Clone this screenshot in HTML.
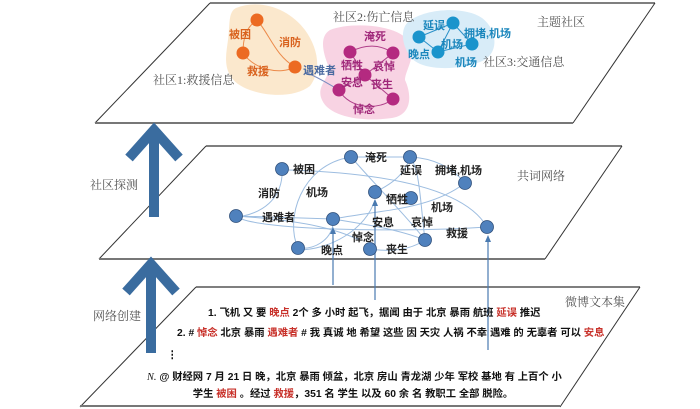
<!DOCTYPE html>
<html><head><meta charset="utf-8"><style>
html,body{margin:0;padding:0;background:#fff;width:700px;height:409px;overflow:hidden}
svg{display:block}
.g{font-family:"Liberation Serif","Noto Serif CJK SC",serif;font-size:12px;fill:#555}
.l{font-family:"Liberation Sans","Noto Sans CJK SC",sans-serif;font-size:11px;font-weight:bold}
.k{fill:#222}
.t{font-family:"Liberation Sans","Noto Sans CJK SC",sans-serif;font-size:10.3px;font-weight:bold;fill:#111}
.r{fill:#c8312a}
</style></head><body>
<svg width="700" height="409" viewBox="0 0 700 409" xmlns="http://www.w3.org/2000/svg">
<!-- planes -->
<g fill="none">
<line x1="210" y1="3" x2="655" y2="3" stroke="#333" stroke-width="1.3"/>
<line x1="210" y1="3" x2="95" y2="123" stroke="#333" stroke-width="1"/>
<line x1="655" y1="3" x2="573" y2="123" stroke="#333" stroke-width="1"/>
<line x1="95" y1="123" x2="573" y2="123" stroke="#777" stroke-width="2"/>
<line x1="206" y1="146" x2="622" y2="146" stroke="#555" stroke-width="1.5"/>
<line x1="206" y1="146" x2="99" y2="259" stroke="#333" stroke-width="1"/>
<line x1="622" y1="146" x2="545" y2="259" stroke="#333" stroke-width="1"/>
<line x1="99" y1="259" x2="545" y2="259" stroke="#777" stroke-width="2"/>
<line x1="196" y1="287" x2="640" y2="287" stroke="#555" stroke-width="1.5"/>
<line x1="196" y1="287" x2="80" y2="407" stroke="#333" stroke-width="1"/>
<line x1="640" y1="287" x2="560" y2="407" stroke="#333" stroke-width="1"/>
<line x1="80" y1="406" x2="560" y2="406" stroke="#777" stroke-width="2"/>
</g>
<!-- big arrows -->
<g stroke="#3a6c9f" stroke-width="10" fill="none">
<line x1="154" y1="217" x2="154" y2="128"/>
<polyline points="129,158 154,130 179,158"/>
<line x1="151" y1="353" x2="151" y2="264"/>
<polyline points="126,292 151,264 176,292"/>
</g>
<polygon points="154,123 148,131 160,131" fill="#3a6c9f"/>
<polygon points="151,259 145,267 157,267" fill="#3a6c9f"/>
<text class="g" x="90" y="189">社区探测</text>
<text class="g" x="93" y="320">网络创建</text>

<!-- top layer blobs -->
<path d="M236,8 C262,-2 290,10 305,30 C318,48 322,70 310,86 C292,100 255,96 238,84 C222,72 226,55 228,40 C230,25 228,12 236,8Z" fill="#fbe6c8" opacity="0.9"/>
<path d="M330,30 C350,22 395,24 408,40 C418,55 405,70 405,80 C412,95 412,115 392,118 C365,122 330,118 322,100 C315,85 332,78 328,65 C322,50 320,36 330,30Z" fill="#f8d3e3"/>
<path d="M408,22 C425,8 465,6 482,18 C498,30 500,55 480,62 C460,70 420,72 410,56 C402,45 400,30 408,22Z" fill="#d8ecf8"/>
<!-- top edges -->
<g fill="none" stroke-width="1">
<path d="M257,20 C245,28 243,40 243,53" stroke="#ec8a4a"/>
<path d="M257,20 C270,35 275,55 295,67" stroke="#ec8a4a"/>
<path d="M243,53 C255,70 280,75 295,67" stroke="#ec8a4a"/>
<path d="M305,72 C320,78 330,85 339,90" stroke="#7a8cc0"/>
<path d="M350,52 C365,44 380,44 393,53" stroke="#b0408a"/>
<path d="M350,52 L365,75 L393,53 M365,75 L339,90 M365,75 L393,99" stroke="#b0408a"/>
<path d="M339,90 C350,110 380,110 393,99" stroke="#b0408a"/>
<path d="M419,37 L453,23 L472,44 L438,52 L419,37 M453,23 L438,52" stroke="#2a90c8"/>
</g>
<g fill="#ec6a22"><circle cx="257" cy="20" r="6.5"/><circle cx="243" cy="53" r="6.5"/><circle cx="295" cy="67" r="6.5"/></g>
<g fill="#b42a80"><circle cx="350" cy="52" r="6.5"/><circle cx="393" cy="53" r="6.5"/><circle cx="365" cy="75" r="6.5"/><circle cx="339" cy="90" r="6.5"/><circle cx="393" cy="99" r="6.5"/></g>
<g fill="#1a94cc"><circle cx="419" cy="37" r="6.5"/><circle cx="453" cy="23" r="6.5"/><circle cx="472" cy="44" r="6.5"/><circle cx="438" cy="52" r="6.5"/></g>
<g class="l" fill="#d9621e"><text x="229" y="38">被困</text><text x="279" y="46">消防</text><text x="247" y="75">救援</text></g>
<text class="l" x="303" y="74" fill="#4a6aa0">遇难者</text>
<g class="l" fill="#a0287a"><text x="364" y="40">淹死</text><text x="341" y="69">牺牲</text><text x="373" y="70">哀悼</text><text x="341" y="86">安息</text><text x="371" y="88">丧生</text><text x="353" y="113">悼念</text></g>
<g class="l" fill="#1a86bc"><text x="423" y="29">延误</text><text x="464" y="37">拥堵,机场</text><text x="441" y="48">机场</text><text x="408" y="58">晚点</text><text x="455" y="66">机场</text></g>
<text class="g" x="153" y="84">社区1:救援信息</text>
<text class="g" x="333" y="21">社区2:伤亡信息</text>
<text class="g" x="483" y="66">社区3:交通信息</text>
<text class="g" x="537" y="26">主题社区</text>

<!-- middle network -->
<g fill="none" stroke="#9dbde0" stroke-width="1">
<path d="M282,176 C280,200 262,212 243,216"/>
<path d="M289,170 C350,172 460,180 487,227"/>
<path d="M351,157 L410,157 C430,158 450,165 465,183"/>
<path d="M351,157 C300,165 285,220 298,248"/>
<path d="M351,157 C380,190 410,220 425,240"/>
<path d="M410,157 C405,175 390,185 375,192"/>
<path d="M410,157 C420,170 420,200 425,240"/>
<path d="M236,216 L333,219"/>
<path d="M236,216 C250,230 400,233 487,227"/>
<path d="M333,219 C380,210 430,210 465,183"/>
<path d="M333,219 C370,225 400,230 425,240"/>
<path d="M298,248 C315,250 330,240 333,225"/>
<path d="M298,250 C330,250 365,230 375,200"/>
<path d="M370,249 C390,252 410,250 425,240"/>
<path d="M236,216 C320,222 340,232 360,240"/>
</g>
<g stroke="#4a7ab0" stroke-width="1.2">
<line x1="333" y1="285" x2="333" y2="232"/>
<line x1="375" y1="300" x2="375" y2="204"/>
<line x1="488" y1="350" x2="488" y2="240"/>
</g>
<g fill="#4a7ab0">
<polygon points="333,227 330,234 336,234"/><polygon points="375,199 372,206 378,206"/><polygon points="488,235 485,242 491,242"/>
</g>
<g fill="#4f81bd" stroke="#2f4f7a" stroke-width="0.8">
<circle cx="282" cy="169" r="6.5"/><circle cx="351" cy="157" r="6.5"/><circle cx="410" cy="157" r="6.5"/><circle cx="465" cy="183" r="6.5"/>
<circle cx="375" cy="192" r="6.5"/><circle cx="411" cy="198" r="6.5"/><circle cx="236" cy="216" r="6.5"/><circle cx="333" cy="219" r="6.5"/>
<circle cx="487" cy="227" r="6.5"/><circle cx="425" cy="240" r="6.5"/><circle cx="298" cy="248" r="6.5"/><circle cx="370" cy="249" r="6.5"/>
</g>
<g class="l k">
<text x="293" y="173">被困</text><text x="365" y="161">淹死</text><text x="400" y="174">延误</text><text x="435" y="174">拥堵,机场</text>
<text x="258" y="197">消防</text><text x="306" y="196">机场</text><text x="386" y="203">牺牲</text><text x="431" y="211">机场</text>
<text x="262" y="221">遇难者</text><text x="372" y="226">安息</text><text x="411" y="226">哀悼</text><text x="446" y="237">救援</text>
<text x="352" y="241">悼念</text><text x="321" y="254">晚点</text><text x="386" y="253">丧生</text>
</g>
<text class="g" x="517" y="180">共词网络</text>

<!-- bottom text -->
<text class="g" x="565" y="306">微博文本集</text>
<text class="t" x="208" y="316">1. 飞机 又 要 <tspan class="r">晚点</tspan> 2个 多 小时 起飞，据闻 由于 北京 暴雨 航班 <tspan class="r">延误</tspan> 推迟</text>
<text class="t" x="177" y="336">2. # <tspan class="r">悼念</tspan> 北京 暴雨 <tspan class="r">遇难者</tspan> # 我 真诚 地 希望 这些 因 天灾 人祸 不幸 遇难 的 无辜者 可以 <tspan class="r">安息</tspan></text>
<text class="t" x="167" y="358">⋮</text>
<text class="t" x="147" y="380"><tspan font-style="italic" font-weight="normal" font-family="Liberation Serif">N.</tspan> @ 财经网 7 月 21 日 晚，北京 暴雨 倾盆，北京 房山 青龙湖 少年 军校 基地 有 上百个 小</text>
<text class="t" x="353" y="397" text-anchor="middle">学生 <tspan class="r">被困</tspan> 。经过 <tspan class="r">救援</tspan>，351 名 学生 以及 60 余 名 教职工 全部 脱险。</text>
</svg>
</body></html>
